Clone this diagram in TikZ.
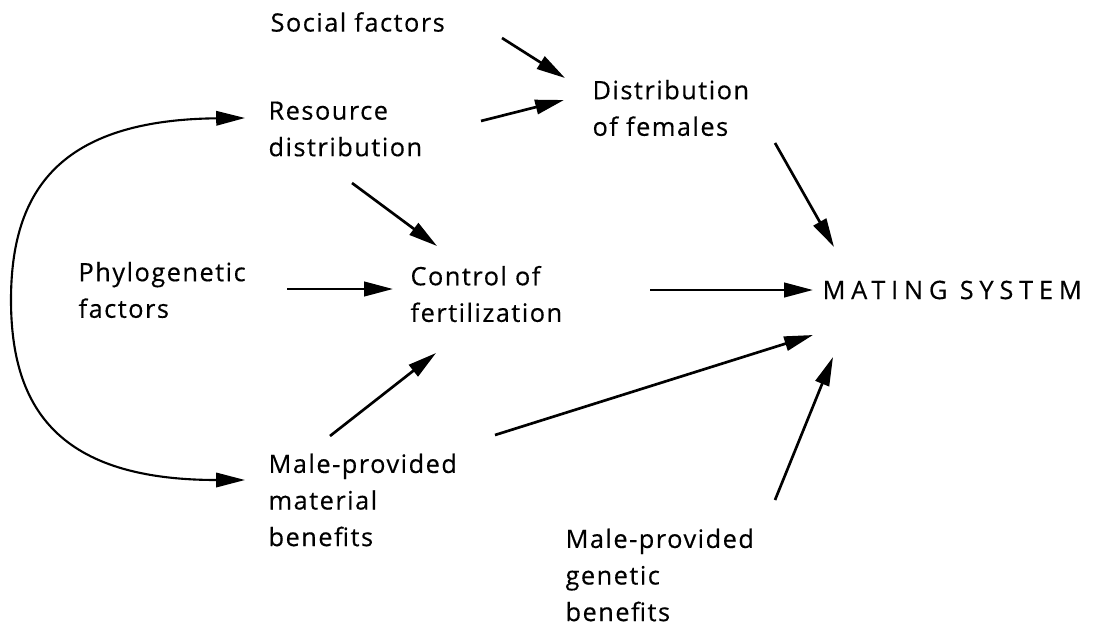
\documentclass[tikz,border=0pt]{standalone}
\usepackage{fontspec}
\setmainfont{Open Sans}[LetterSpace=6, FakeBold=0.4]
\usetikzlibrary{arrows.meta}
\tikzset{
  mate/label/.style = {anchor=west, inner sep=0pt, align=left,
                       font=\fontsize{9}{13}\selectfont},
  mate/title/.style = {mate/label, font=\fontsize{9}{13}\selectfont\addfontfeature{LetterSpace=23}},
  mate/arrow/.style = {-{Triangle[length=3.6mm, width=1.8mm]}, line width=0.95pt},
  mate/biarrow/.style = {{Triangle[length=3.6mm, width=1.8mm]}-{Triangle[length=3.6mm, width=1.8mm]},
                         line width=0.75pt},
}
\begin{document}
\begin{tikzpicture}[x=0.0125cm, y=-0.0125cm]
  % --- Canvas (pixel grid of the figure, y downwards) ---
  \useasboundingbox (0,0) rectangle (1102,624);
  % --- Factors ---
  \node[mate/label] (social)   at (270, 22)  {Social factors};
  \node[mate/label] (resource) at (268, 129) {Resource\\distribution};
  \node[mate/label] (distr)    at (592, 108) {Distribution\\of females};
  \node[mate/label] (phylo)    at (78,  290) {Phylogenetic\\factors};
  \node[mate/label] (control)  at (410, 294) {Control of\\fertilization};
  \node[mate/label] (material) at (268, 500) {Male-provided\\material\\benefits};
  \node[mate/label] (genetic)  at (565, 575) {Male-provided\\genetic\\benefits};
  \node[mate/title] (mating)   at (822, 290) {MATING SYSTEM};
  % --- Arrows into distribution of females ---
  \draw[mate/arrow] ([shift={(232,16)}]social.west)   -- ([shift={(-27,-30)}]distr.west);
  \draw[mate/arrow] ([shift={(213,-8)}]resource.west) -- ([shift={(-28,-8)}]distr.west);
  % --- Arrows into control of fertilization ---
  \draw[mate/arrow] ([shift={(84,54)}]resource.west)  -- ([shift={(27,-48)}]control.west);
  \draw[mate/arrow] ([shift={(209,-1)}]phylo.west)    -- ([shift={(-17,-5)}]control.west);
  \draw[mate/arrow] ([shift={(62,-64)}]material.west) -- ([shift={(26,59)}]control.west);
  % --- Arrows into the mating system ---
  \draw[mate/arrow] ([shift={(183,35)}]distr.west)    -- ([shift={(12,-43)}]mating.west);
  \draw[mate/arrow] ([shift={(240,-4)}]control.west)  -- ([shift={(-9,0)}]mating.west);
  \draw[mate/arrow] ([shift={(227,-65)}]material.west) -- ([shift={(-9,45)}]mating.west);
  \draw[mate/arrow] ([shift={(210,-75)}]genetic.west) -- ([shift={(11,67)}]mating.west);
  % --- Phylogeny links resources and material benefits ---
  \coordinate (bend) at (11, 300);
  \draw[mate/biarrow] ([shift={(-23,-11)}]resource.west)
      .. controls (60,120) and (11,190) .. (bend)
      .. controls (11,410) and (60,480) .. ([shift={(-23,-20)}]material.west);
\end{tikzpicture}
\end{document}
